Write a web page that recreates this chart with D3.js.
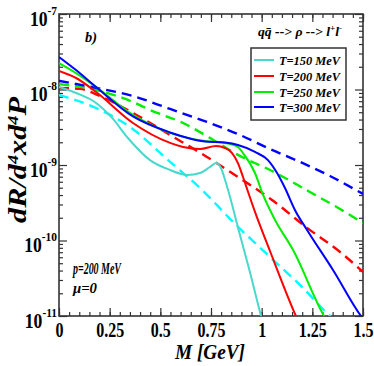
<!DOCTYPE html>
<html>
<head>
<meta charset="utf-8">
<script src="https://cdn.jsdelivr.net/npm/d3@7"></script>
<style>
body { margin: 0; background: #fff; }
</style>
</head>
<body>
<div id="chart"></div>
<script>
// data: [M in GeV, rate]
var solid150 = [[0, 1.08e-8], [0.084, 8.99e-9], [0.183, 6.63e-9], [0.262, 4.20e-9], [0.340, 2.28e-9], [0.449, 1.16e-9],
	[0.548, 8.59e-10], [0.632, 7.38e-10], [0.696, 7.83e-10], [0.745, 9.42e-10], [0.775, 1.06e-9], [0.799, 9.12e-10],
	[0.824, 5.78e-10], [0.893, 1.18e-10], [0.942, 3.83e-11], [0.997, 1.0e-11], [1.02, 6.0e-12]];
var solid200 = [[0, 1.76e-8], [0.084, 1.42e-8], [0.183, 9.27e-9], [0.365, 3.60e-9], [0.548, 1.96e-9], [0.612, 1.73e-9],
	[0.696, 1.63e-9], [0.775, 1.79e-9], [0.819, 1.68e-9], [0.854, 1.44e-9], [0.883, 1.06e-9], [0.908, 6.94e-10],
	[0.933, 4.39e-10], [0.967, 2.39e-10], [1.041, 7.26e-11], [1.169, 1.0e-11], [1.19, 7.5e-12]];
var solid250 = [[0, 2.24e-8], [0.084, 1.65e-8], [0.183, 1.08e-8], [0.365, 4.60e-9], [0.548, 2.66e-9], [0.720, 2.08e-9],
	[0.819, 1.96e-9], [0.883, 1.73e-9], [0.908, 1.44e-9], [0.967, 7.83e-10], [1.007, 4.01e-10], [1.066, 1.87e-10],
	[1.155, 7.48e-11], [1.308, 1.0e-11], [1.33, 8.0e-12]];
var solid300 = [[0, 2.70e-8], [0.084, 1.81e-8], [0.183, 1.08e-8], [0.365, 4.40e-9], [0.548, 2.70e-9], [0.720, 2.05e-9],
	[0.819, 1.98e-9], [0.883, 1.84e-9], [0.967, 1.49e-9], [1.031, 1.16e-9], [1.076, 7.83e-10], [1.115, 4.96e-10],
	[1.164, 2.54e-10], [1.224, 1.38e-10], [1.352, 4.07e-11], [1.490, 1.0e-11], [1.51, 8.5e-12]];

var dashed150 = [[0, 8.46e-9], [0.183, 5.69e-9], [0.350, 3.19e-9], [0.548, 1.10e-9], [0.706, 4.67e-10], [0.859, 1.76e-10],
	[1.041, 6.05e-11], [1.189, 2.58e-11], [1.337, 1.0e-11], [1.36, 8.8e-12]];
var dashed200 = [[0, 1.05e-8], [0.104, 1.02e-8], [0.202, 8.20e-9], [0.365, 4.89e-9], [0.548, 2.50e-9], [0.730, 1.28e-9],
	[0.883, 6.94e-10], [1.051, 3.44e-10], [1.224, 1.47e-10], [1.387, 7.05e-11], [1.5, 3.83e-11]];
var dashed250 = [[0, 1.18e-8], [0.183, 9.85e-9], [0.365, 6.83e-9], [0.449, 5.36e-9], [0.612, 3.60e-9], [0.770, 2.08e-9],
	[0.883, 1.36e-9], [1.051, 8.34e-10], [1.238, 4.39e-10], [1.387, 2.61e-10], [1.5, 1.71e-10]];
var dashed300 = [[0, 1.30e-8], [0.183, 1.05e-8], [0.365, 8.20e-9], [0.548, 5.52e-9], [0.730, 3.72e-9], [0.893, 2.50e-9],
	[1.041, 1.63e-9], [1.189, 1.10e-9], [1.337, 7.16e-10], [1.5, 4.13e-10]];

var legendLabels = ["T=150 MeV", "T=200 MeV", "T=250 MeV", "T=300 MeV"];
var solidColors = ["#48d8cc", "#ff0000", "#00ee00", "#0000ff"];
var dashedColors = ["#00ffff", "#ff0000", "#00ee00", "#0000ff"];
var xMajor = [0, 0.25, 0.5, 0.75, 1, 1.25, 1.5];
var xLabels = ["0", "0.25", "0.5", "0.75", "1", "1.25", "1.5"];
var yMajor = [1e-7, 1e-8, 1e-9, 1e-10, 1e-11];
var yExponents = ["-7", "-8", "-9", "-10", "-11"];

drawchart()

function drawchart() {
	var W = 374, H = 366;
	var margin = { top: 14, right: 11, bottom: 50, left: 59 };
	var left = margin.left, right = W - margin.right;
	var top = margin.top, bottom = H - margin.bottom;

	var svg = d3.select("#chart")
		.append("svg")
		.attr("width", W)
		.attr("height", H);

	var x = d3.scaleLinear().domain([0, 1.5]).range([left, right]);
	var y = d3.scaleLog().domain([1e-11, 1e-7]).range([bottom, top]);

	svg.append("defs").append("clipPath").attr("id", "plotclip")
		.append("rect")
		.attr("x", left).attr("y", top)
		.attr("width", right - left).attr("height", bottom - top);

	var serif = "'Liberation Serif', 'Times New Roman', serif";

	// minor ticks
	var xMinor = d3.range(0, 1.5001, 0.05).map(function(v) { return +v.toFixed(2); });
	var yMinor = [];
	for (var e = -11; e < -7; e++) {
		for (var k = 2; k <= 9; k++) yMinor.push(k * Math.pow(10, e));
	}

	var axes = svg.append("g")
		.style("color", "#333");

	axes.append("g").attr("transform", `translate(0,${bottom})`)
		.call(d3.axisBottom(x).tickValues(xMinor).tickSize(-4).tickFormat(""));
	axes.append("g").attr("transform", `translate(0,${top})`)
		.call(d3.axisTop(x).tickValues(xMinor).tickSize(-4).tickFormat(""));
	axes.append("g").attr("transform", `translate(0,${top})`)
		.call(d3.axisTop(x).tickValues(xMajor).tickSize(-8).tickFormat(""));
	axes.append("g").attr("transform", `translate(${left},0)`)
		.call(d3.axisLeft(y).tickValues(yMinor).tickSize(-4).tickFormat(""));
	axes.append("g").attr("transform", `translate(${right},0)`)
		.call(d3.axisRight(y).tickValues(yMinor).tickSize(-4).tickFormat(""));
	axes.append("g").attr("transform", `translate(${left},0)`)
		.call(d3.axisLeft(y).tickValues(yMajor).tickSize(-8).tickFormat(""));
	axes.append("g").attr("transform", `translate(${right},0)`)
		.call(d3.axisRight(y).tickValues(yMajor).tickSize(-8).tickFormat(""));

	var xAxis = axes.append("g").attr("transform", `translate(0,${bottom})`)
		.call(d3.axisBottom(x).tickValues(xMajor).tickSize(-8)
			.tickFormat(function(d, i) { return xLabels[i]; }));
	xAxis.selectAll("text")
		.attr("y", 21)
		.attr("dy", null)
		.attr("transform", "scale(0.8,1)")
		.style("font-family", serif)
		.style("font-weight", "bold")
		.style("font-size", "20px")
		.style("fill", "#000");
	axes.selectAll(".domain").remove();
	axes.selectAll(".tick line").attr("stroke-width", 1.2);

	// y tick labels 10^n
	yMajor.forEach(function(v, i) {
		var t = svg.append("text")
			.attr("transform", `translate(${left - 2},${y(v) + 11.5}) scale(0.88,1)`)
			.attr("text-anchor", "end")
			.style("font-family", serif)
			.style("font-weight", "bold")
			.style("font-size", "20px");
		t.append("tspan").text("10");
		t.append("tspan").attr("dy", -11).style("font-size", "13px").text(yExponents[i]);
	});

	// frame
	svg.append("rect")
		.attr("x", left).attr("y", top)
		.attr("width", right - left).attr("height", bottom - top)
		.attr("fill", "none")
		.attr("stroke", "#333")
		.attr("stroke-width", 1.6);

	var line = d3.line()
		.x(function(d) { return x(d[0]); })
		.y(function(d) { return y(d[1]); })
		.curve(d3.curveMonotoneX);

	var plot = svg.append("g").attr("clip-path", "url(#plotclip)");
	var dashed = [dashed150, dashed200, dashed250, dashed300];
	var solid = [solid150, solid200, solid250, solid300];

	dashed.forEach(function(s, i) {
		plot.append("path")
			.attr("d", line(s))
			.attr("fill", "none")
			.attr("stroke", dashedColors[i])
			.attr("stroke-width", 2.4)
			.attr("stroke-dasharray", "10,6");
	});
	solid.forEach(function(s, i) {
		plot.append("path")
			.attr("d", line(s))
			.attr("fill", "none")
			.attr("stroke", solidColors[i])
			.attr("stroke-width", 2);
	});

	function label(xp, yp, size, len) {
		return svg.append("text")
			.attr("x", xp).attr("y", yp)
			.attr("textLength", len)
			.attr("lengthAdjust", "spacingAndGlyphs")
			.style("font-family", serif)
			.style("font-weight", "bold")
			.style("font-style", "italic")
			.style("font-size", size + "px");
	}

	// axis titles
	var ylab = svg.append("text")
		.attr("transform", "translate(26,160) rotate(-90)")
		.attr("text-anchor", "middle")
		.attr("textLength", 126)
		.attr("lengthAdjust", "spacingAndGlyphs")
		.style("font-family", serif)
		.style("font-weight", "bold")
		.style("font-style", "italic")
		.style("font-size", "25px");
	ylab.append("tspan").text("dR/d");
	ylab.append("tspan").attr("dy", -8).style("font-size", "15px").text("4");
	ylab.append("tspan").attr("dy", 8).text("xd");
	ylab.append("tspan").attr("dy", -8).style("font-size", "15px").text("4");
	ylab.append("tspan").attr("dy", 8).text("P");

	label(175, 359, 20, 70).text("M [GeV]");

	// annotations
	label(85, 42, 14, 12).text("b)");
	label(73, 274, 16, 48).text("p=200 MeV");
	label(73, 293, 15, 24).text("\u03bc=0");

	var ttl = label(258, 36, 13.5, 84);
	ttl.append("tspan").text("q\u0071\u0304 --> \u03c1 --> l");
	ttl.append("tspan").attr("dy", -5).style("font-size", "9px").text("+");
	ttl.append("tspan").attr("dy", 5).text("l");
	ttl.append("tspan").attr("dy", -5).style("font-size", "9px").text("-");

	// legend
	var leg = svg.append("g");
	leg.append("rect")
		.attr("x", 251).attr("y", 48)
		.attr("width", 95).attr("height", 72)
		.attr("fill", "#fff")
		.attr("stroke", "#333")
		.attr("stroke-width", 1.5);
	var rows = [60, 76, 92, 107];
	legendLabels.forEach(function(t, i) {
		leg.append("line")
			.attr("x1", 254).attr("x2", 274)
			.attr("y1", rows[i]).attr("y2", rows[i])
			.attr("stroke", solidColors[i])
			.attr("stroke-width", 2);
		label(279, rows[i] + 4.5, 13.5, 61).text(t);
	});
}
</script>
</body>
</html>
